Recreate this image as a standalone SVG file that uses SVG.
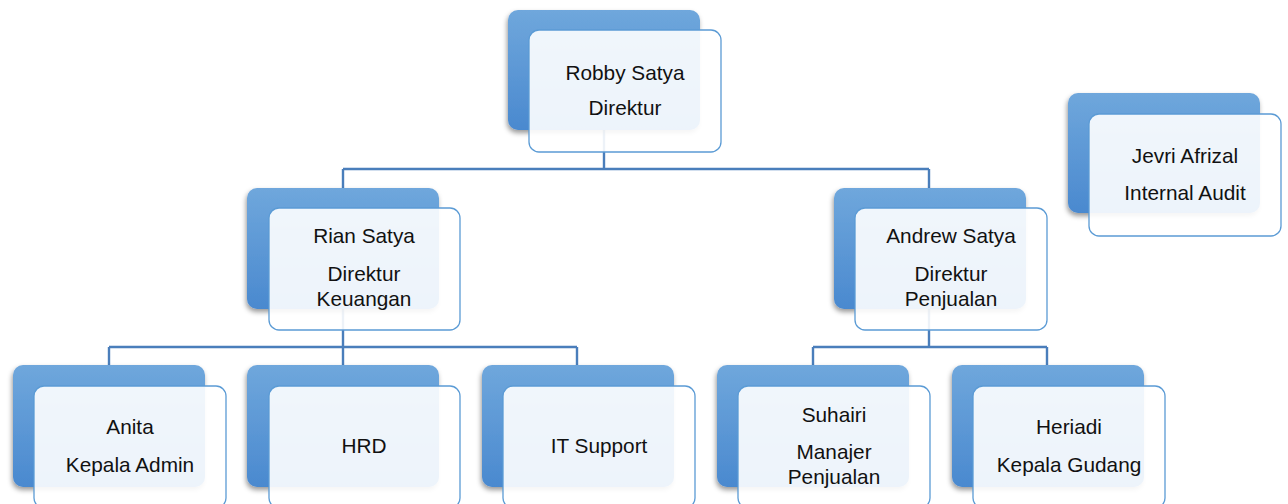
<svg xmlns="http://www.w3.org/2000/svg" width="1288" height="504" viewBox="0 0 1288 504">
<style>
.back{fill:url(#bg);filter:url(#sh)}
.front{fill:#ffffff;fill-opacity:0.9;stroke:#5b9bd5;stroke-width:1.3}
.conn{fill:none;stroke:#4a7ebb;stroke-width:2.4}
text{font-family:"Liberation Sans",Arial,sans-serif;font-size:20.8px;fill:#111;text-anchor:middle}
</style>
<defs>
<linearGradient id="bg" x1="0" y1="0" x2="0" y2="1">
<stop offset="0" stop-color="#6fa7dc"/>
<stop offset="1" stop-color="#4a89cf"/>
</linearGradient>
<filter id="sh" x="-10%" y="-10%" width="120%" height="125%">
<feDropShadow dx="-1" dy="3" stdDeviation="2.5" flood-color="#000" flood-opacity="0.4"/>
</filter>
</defs>
<g id="connectors">
<path class="conn" d="M604 130V169M343 169H929M343 169V188M929 169V188"/>
<path class="conn" d="M343 309V347M109 347H577M109 347V365M343 347V365M577 347V365"/>
<path class="conn" d="M929 309V347M813 347H1047M813 347V365M1047 347V365"/>
</g>
<g id="robby">
<rect class="back" x="508" y="10" width="192" height="120" rx="10"/>
<rect class="front" x="529" y="30" width="192" height="122" rx="10"/>
<text x="625" y="80">Robby Satya</text>
<text x="625" y="115">Direktur</text>
</g>
<g id="jevri">
<rect class="back" x="1068" y="93" width="192" height="120" rx="10"/>
<rect class="front" x="1089" y="114" width="192" height="122" rx="10"/>
<text x="1185" y="163">Jevri Afrizal</text>
<text x="1185" y="200">Internal Audit</text>
</g>
<g id="rian">
<rect class="back" x="247" y="188" width="192" height="121" rx="10"/>
<rect class="front" x="269" y="208" width="191" height="122" rx="10"/>
<text x="364" y="243">Rian Satya</text>
<text x="364" y="281">Direktur</text>
<text x="364" y="306">Keuangan</text>
</g>
<g id="andrew">
<rect class="back" x="834" y="188" width="192" height="121" rx="10"/>
<rect class="front" x="855" y="208" width="192" height="122" rx="10"/>
<text x="951" y="243">Andrew Satya</text>
<text x="951" y="281">Direktur</text>
<text x="951" y="306">Penjualan</text>
</g>
<g id="anita">
<rect class="back" x="13" y="365" width="192" height="122" rx="10"/>
<rect class="front" x="34" y="386" width="192" height="122" rx="10"/>
<text x="130" y="434">Anita</text>
<text x="130" y="472">Kepala Admin</text>
</g>
<g id="hrd">
<rect class="back" x="247" y="365" width="192" height="122" rx="10"/>
<rect class="front" x="269" y="386" width="191" height="122" rx="10"/>
<text x="364" y="453">HRD</text>
</g>
<g id="itsupport">
<rect class="back" x="482" y="365" width="192" height="122" rx="10"/>
<rect class="front" x="503" y="386" width="192" height="122" rx="10"/>
<text x="599" y="453">IT Support</text>
</g>
<g id="suhairi">
<rect class="back" x="717" y="365" width="192" height="122" rx="10"/>
<rect class="front" x="738" y="386" width="192" height="122" rx="10"/>
<text x="834" y="422">Suhairi</text>
<text x="834" y="459">Manajer</text>
<text x="834" y="484">Penjualan</text>
</g>
<g id="heriadi">
<rect class="back" x="952" y="365" width="192" height="122" rx="10"/>
<rect class="front" x="973" y="386" width="192" height="122" rx="10"/>
<text x="1069" y="434">Heriadi</text>
<text x="1069" y="472">Kepala Gudang</text>
</g>
</svg>
